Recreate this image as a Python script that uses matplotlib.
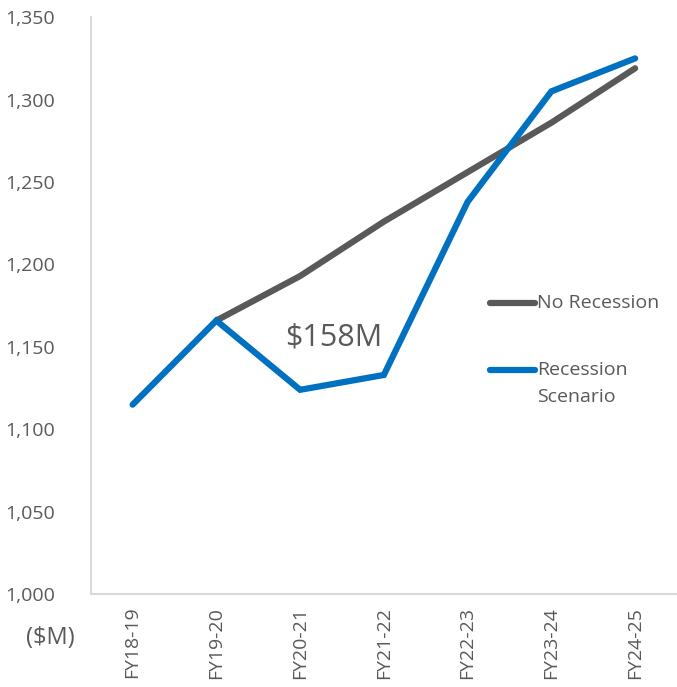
import matplotlib.pyplot as plt

# Revenue projection: no recession vs recession scenario ($M)
years = ['FY18-19', 'FY19-20', 'FY20-21', 'FY21-22', 'FY22-23', 'FY23-24', 'FY24-25']
no_recession = [None, 1166, 1193, 1226, 1256, 1286, 1319]
recession = [1115, 1166, 1124, 1133, 1238, 1305, 1325]

plt.rcParams['font.family'] = ['Open Sans', 'DejaVu Sans']
grey_text = '#595959'
grey_line = '#595959'
blue_line = '#0070c0'

fig = plt.figure(figsize=(6.77, 6.87), dpi=100)
ax = fig.add_axes([0.134, 0.135, 0.866, 0.84])

x = list(range(len(years)))
nr_x = [i for i, v in zip(x, no_recession) if v is not None]
nr_y = [v for v in no_recession if v is not None]
ax.plot(nr_x, nr_y, color=grey_line, linewidth=4.5, solid_capstyle='round',
        solid_joinstyle='miter', zorder=2)
ax.plot(x, recession, color=blue_line, linewidth=4.5, solid_capstyle='round',
        solid_joinstyle='miter', zorder=3)

ax.set_xlim(-0.5, 6.5)
ax.set_ylim(1000, 1350)
ax.set_yticks(range(1000, 1351, 50))
ax.set_yticklabels([f'{v:,}' for v in range(1000, 1351, 50)])
ax.set_xticks(x)
ax.set_xticklabels(years, rotation=90)
ax.tick_params(length=0, labelsize=14, colors=grey_text, pad=9)
ax.tick_params(axis='y', pad=26)

for side in ['top', 'right']:
    ax.spines[side].set_visible(False)
for side in ['left', 'bottom']:
    ax.spines[side].set_color('#d9d9d9')
    ax.spines[side].set_linewidth(1.5)

ax.text(2.4, 1156, '$158M', fontsize=22, color=grey_text, ha='center', va='center')
fig.text(0.074, 0.072, '($M)', fontsize=17, color=grey_text, ha='center', va='center')

# legend drawn by hand so the handle lines up with the first text line
legend_items = [(['No Recession'], grey_line, 0.504), (['Recession', 'Scenario'], blue_line, 0.388)]
for lines, color, y in legend_items:
    ax.plot([0.681, 0.758], [y, y], color=color, linewidth=4.5, solid_capstyle='round',
            transform=ax.transAxes, clip_on=False)
    for k, line in enumerate(lines):
        ax.text(0.761, y - k * 0.047, line, transform=ax.transAxes, fontsize=14,
                color=grey_text, ha='left', va='center')

fig.savefig('out.png', dpi=100)
